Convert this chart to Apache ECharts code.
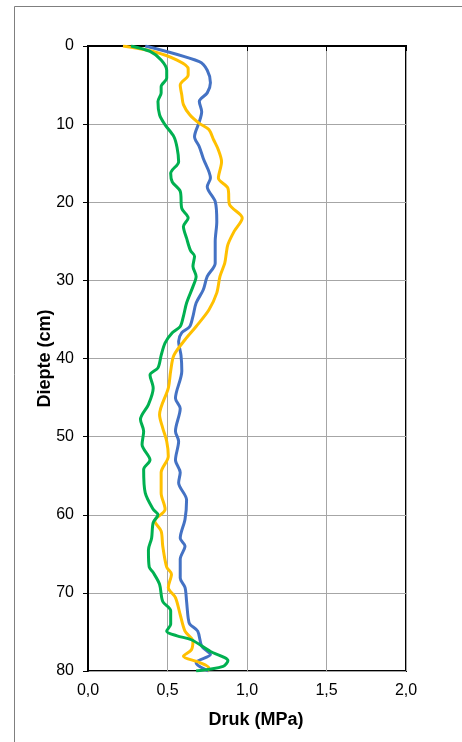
<!DOCTYPE html>
<html>
<head>
<meta charset="utf-8">
<script src="https://cdn.jsdelivr.net/npm/echarts@6/dist/echarts.min.js"></script>
<style>
html,body{margin:0;padding:0;background:#fff;}
#chart{width:462px;height:742px;}
</style>
</head>
<body>
<div id="chart"></div>
<script>
// Depth (cm) and pressure (MPa) for each of the three profiles
const blueDepth = [0, 2.0, 3.1, 4.7, 6.0, 7.1, 8.4, 9.7, 11.6, 12.9, 14.4, 16.9, 18.0, 19.9, 22.5, 25.0, 27.8, 29.5, 31.2, 32.9, 34.6, 35.9, 36.7, 37.8, 39.6, 41.6, 45.1, 46.4, 49.3, 50.6, 53.0, 54.6, 55.9, 58.1, 60.6, 63.0, 64.0, 65.7, 68.1, 69.3, 71.1, 73.2, 74.0, 74.9, 76.8, 77.9, 78.9, 79.4, 80];
const blueDruk  = [0.36, 0.70, 0.75, 0.77, 0.75, 0.70, 0.715, 0.70, 0.67, 0.70, 0.725, 0.77, 0.75, 0.80, 0.81, 0.80, 0.80, 0.75, 0.725, 0.68, 0.66, 0.64, 0.59, 0.57, 0.585, 0.59, 0.55, 0.58, 0.55, 0.57, 0.55, 0.58, 0.57, 0.62, 0.61, 0.58, 0.61, 0.58, 0.58, 0.61, 0.62, 0.63, 0.64, 0.69, 0.715, 0.77, 0.68, 0.70, 0.76];

const yellowDepth = [0, 0.7, 1.8, 2.9, 3.7, 5.0, 6.3, 7.5, 8.8, 9.9, 10.7, 12.0, 13.3, 14.8, 16.9, 18.2, 20.3, 22.0, 23.7, 25.4, 26.5, 27.8, 29.5, 31.6, 33.8, 35.9, 37.6, 39.6, 41.6, 43.8, 47.2, 48.9, 50.6, 52.5, 54.6, 57.2, 59.3, 60.8, 62.1, 64.0, 66.7, 67.6, 69.3, 70.6, 72.8, 74.9, 76.2, 77.3, 78.1, 78.9, 79.6, 80];
const yellowDruk  = [0.22, 0.41, 0.56, 0.63, 0.63, 0.58, 0.59, 0.60, 0.64, 0.70, 0.76, 0.79, 0.82, 0.84, 0.82, 0.88, 0.89, 0.97, 0.92, 0.88, 0.87, 0.86, 0.83, 0.81, 0.76, 0.68, 0.61, 0.54, 0.52, 0.505, 0.45, 0.47, 0.495, 0.505, 0.46, 0.46, 0.485, 0.42, 0.46, 0.47, 0.495, 0.525, 0.505, 0.55, 0.58, 0.61, 0.66, 0.65, 0.60, 0.70, 0.76, 0.75];

const greenDepth = [0, 0.7, 1.8, 3.1, 4.1, 5.2, 6.0, 7.1, 8.8, 10.1, 11.6, 13.0, 14.8, 16.3, 17.4, 18.6, 20.8, 22.0, 23.1, 24.6, 26.2, 26.9, 28.2, 29.5, 30.8, 32.9, 34.6, 35.9, 36.7, 38.0, 39.6, 41.2, 42.1, 43.8, 45.9, 47.8, 49.3, 51.0, 53.0, 54.2, 57.2, 59.3, 60.0, 61.0, 63.0, 64.5, 66.7, 67.4, 68.9, 71.1, 72.3, 74.0, 74.9, 75.5, 76.0, 77.5, 78.7, 79.4, 80];
const greenDruk  = [0.27, 0.39, 0.46, 0.495, 0.495, 0.46, 0.46, 0.44, 0.45, 0.485, 0.54, 0.56, 0.57, 0.52, 0.53, 0.58, 0.59, 0.63, 0.60, 0.62, 0.645, 0.67, 0.66, 0.68, 0.66, 0.62, 0.60, 0.58, 0.53, 0.485, 0.46, 0.44, 0.39, 0.41, 0.38, 0.33, 0.35, 0.34, 0.39, 0.35, 0.36, 0.41, 0.44, 0.41, 0.40, 0.38, 0.385, 0.41, 0.45, 0.47, 0.52, 0.52, 0.495, 0.56, 0.65, 0.77, 0.88, 0.85, 0.68];

const xTicks = ['0,0', '0,5', '1,0', '1,5', '2,0'];
const xAxisName = 'Druk (MPa)';
const yAxisName = 'Diepte (cm)';

function pairs(xs, ys) { return xs.map((x, i) => [x, ys[i]]); }

const chart = echarts.init(document.getElementById('chart'), null, {renderer: 'canvas'});
const font = 'Liberation Sans, Arial, sans-serif';
const lineSeries = (name, color, xs, ys) => ({
  name, type: 'line', data: pairs(xs, ys), showSymbol: false, smooth: 0.3,
  lineStyle: {color, width: 3}, itemStyle: {color}, animation: false, clip: true
});

chart.setOption({
  animation: false,
  graphic: [{
    type: 'rect', silent: true, z: -1,
    shape: {x: 14.5, y: 6.5, width: 600, height: 900},
    style: {fill: 'none', stroke: '#7f7f7f', lineWidth: 1}
  }],
  grid: {left: 88, top: 46, right: 56, bottom: 71, show: true, borderColor: '#000', borderWidth: 2, backgroundColor: 'transparent'},
  xAxis: {
    type: 'value', min: 0, max: 2, interval: 0.5,
    name: xAxisName, nameLocation: 'middle', nameGap: 40, nameMoveOverlap: false,
    nameTextStyle: {fontFamily: font, fontWeight: 'bold', fontSize: 18, color: '#000', padding: [0, 0, 0, 18]},
    axisLine: {show: true, lineStyle: {color: '#000', width: 2}},
    axisTick: {show: true, length: 5, lineStyle: {color: '#000', width: 1}},
    axisLabel: {fontFamily: font, fontSize: 16, color: '#000', margin: 12,
      formatter: (v) => xTicks[Math.round(v / 0.5)]},
    splitLine: {show: true, lineStyle: {color: '#a6a6a6', width: 1}}
  },
  yAxis: {
    type: 'value', inverse: true, min: 0, max: 80, interval: 10,
    name: yAxisName, nameLocation: 'middle', nameGap: 34, nameRotate: 90, nameMoveOverlap: false,
    nameTextStyle: {fontFamily: font, fontWeight: 'bold', fontSize: 18, color: '#000'},
    axisLine: {show: true, lineStyle: {color: '#000', width: 2}},
    axisTick: {show: true, length: 5, lineStyle: {color: '#000', width: 1}},
    axisLabel: {fontFamily: font, fontSize: 16, color: '#000', margin: 14},
    splitLine: {show: true, lineStyle: {color: '#a6a6a6', width: 1}}
  },
  series: [
    lineSeries('Blauw', '#4472C4', blueDruk, blueDepth),
    lineSeries('Geel', '#FFC000', yellowDruk, yellowDepth),
    lineSeries('Groen', '#00B050', greenDruk, greenDepth)
  ]
});
</script>
</body>
</html>
